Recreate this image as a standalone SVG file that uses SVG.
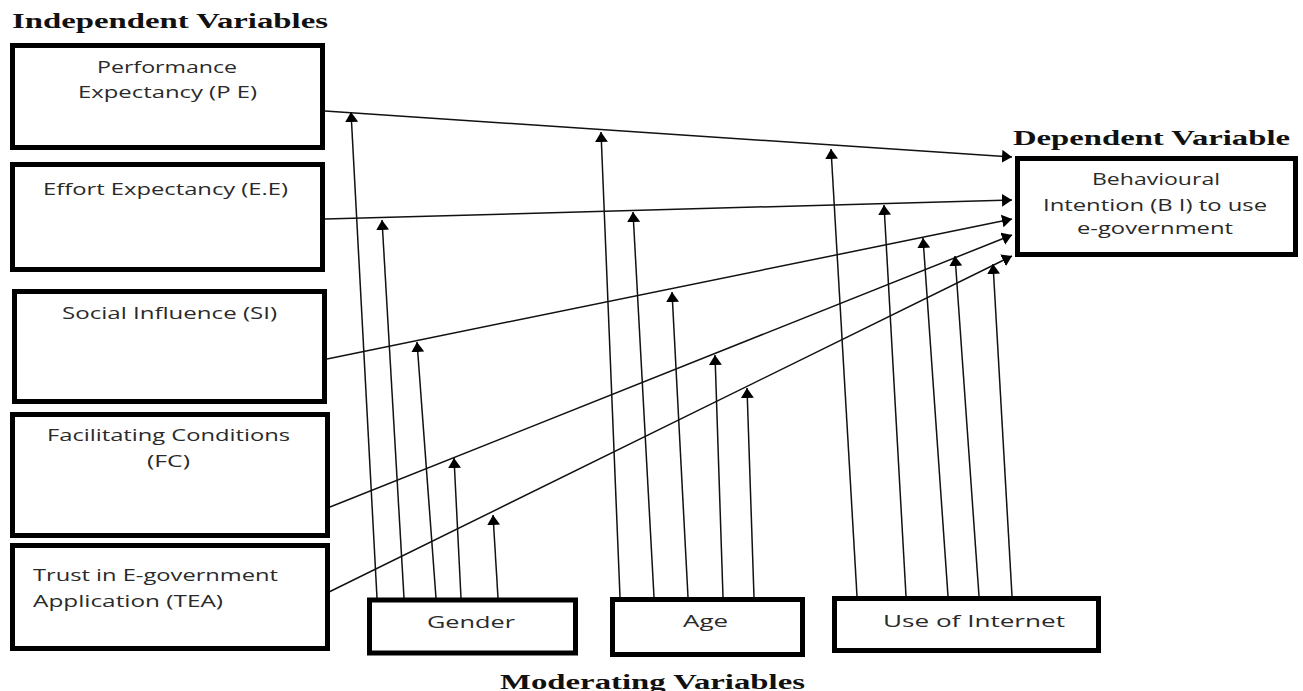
<svg xmlns="http://www.w3.org/2000/svg" width="1303" height="691" viewBox="0 0 1303 691">
<style>
.box{fill:#fff;stroke:#000;stroke-width:5}
.t{font-family:"Open Sans","Noto Sans",sans-serif;font-size:16px;fill:#2a2a2a}
.h{font-family:"Liberation Serif","Times New Roman",serif;font-size:20px;font-weight:bold;fill:#111}
.c{fill:none;stroke:#111;stroke-width:1.5}
</style>
<defs>
<marker id="ah" markerUnits="userSpaceOnUse" markerWidth="11" markerHeight="13" refX="10" refY="6.5" orient="auto">
<path d="M0,0 L10,6.5 L0,13 z" fill="#000"/>
</marker>
</defs>
<rect width="1303" height="691" fill="#fff"/>
<text class="h" x="12" y="28" textLength="316" lengthAdjust="spacingAndGlyphs">Independent Variables</text>
<text class="h" x="1013" y="145" textLength="277" lengthAdjust="spacingAndGlyphs">Dependent Variable</text>
<text class="h" x="500" y="689" textLength="305" lengthAdjust="spacingAndGlyphs">Moderating Variables</text>
<g id="connectors">
<line class="c" x1="325" y1="111" x2="1012" y2="157" marker-end="url(#ah)"/>
<line class="c" x1="325" y1="219" x2="1012" y2="200" marker-end="url(#ah)"/>
<line class="c" x1="327" y1="359" x2="1012" y2="219" marker-end="url(#ah)"/>
<line class="c" x1="330" y1="507" x2="1012" y2="235" marker-end="url(#ah)"/>
<line class="c" x1="329" y1="592" x2="1012" y2="256" marker-end="url(#ah)"/>
<line class="c" x1="377" y1="598" x2="351" y2="112" marker-end="url(#ah)"/>
<line class="c" x1="404" y1="598" x2="382" y2="220" marker-end="url(#ah)"/>
<line class="c" x1="436" y1="598" x2="417" y2="342" marker-end="url(#ah)"/>
<line class="c" x1="461" y1="598" x2="454" y2="458" marker-end="url(#ah)"/>
<line class="c" x1="498" y1="598" x2="493" y2="515" marker-end="url(#ah)"/>
<line class="c" x1="620" y1="597" x2="601" y2="132" marker-end="url(#ah)"/>
<line class="c" x1="654" y1="597" x2="633" y2="212" marker-end="url(#ah)"/>
<line class="c" x1="688" y1="597" x2="672" y2="292" marker-end="url(#ah)"/>
<line class="c" x1="723" y1="597" x2="715" y2="355" marker-end="url(#ah)"/>
<line class="c" x1="754" y1="597" x2="747" y2="388" marker-end="url(#ah)"/>
<line class="c" x1="857" y1="596" x2="831" y2="149" marker-end="url(#ah)"/>
<line class="c" x1="906" y1="596" x2="884" y2="205" marker-end="url(#ah)"/>
<line class="c" x1="948" y1="596" x2="923" y2="238" marker-end="url(#ah)"/>
<line class="c" x1="979" y1="596" x2="955" y2="256" marker-end="url(#ah)"/>
<line class="c" x1="1012" y1="596" x2="993" y2="264" marker-end="url(#ah)"/>
</g>
<g id="pe">
<rect class="box" x="12.5" y="45.5" width="310" height="102"/>
<text class="t" x="97" y="73" textLength="140" lengthAdjust="spacingAndGlyphs">Performance</text>
<text class="t" x="78" y="98" textLength="179" lengthAdjust="spacingAndGlyphs">Expectancy (P E)</text>
</g>
<g id="ee">
<rect class="box" x="12.5" y="164.5" width="310" height="105"/>
<text class="t" x="43" y="195" textLength="245" lengthAdjust="spacingAndGlyphs">Effort Expectancy (E.E)</text>
</g>
<g id="si">
<rect class="box" x="14.5" y="291.5" width="310" height="110"/>
<text class="t" x="62" y="319" textLength="215" lengthAdjust="spacingAndGlyphs">Social Influence (SI)</text>
</g>
<g id="fc">
<rect class="box" x="12.5" y="414.5" width="315" height="121"/>
<text class="t" x="47" y="441" textLength="243" lengthAdjust="spacingAndGlyphs">Facilitating Conditions</text>
<text class="t" x="147" y="467" textLength="43" lengthAdjust="spacingAndGlyphs">(FC)</text>
</g>
<g id="tea">
<rect class="box" x="12.5" y="545.5" width="315" height="103"/>
<text class="t" x="33" y="581" textLength="245" lengthAdjust="spacingAndGlyphs">Trust in E-government</text>
<text class="t" x="33" y="607" textLength="190" lengthAdjust="spacingAndGlyphs">Application (TEA)</text>
</g>
<g id="bi">
<rect class="box" x="1017.5" y="158.5" width="278" height="96"/>
<text class="t" x="1092" y="185" textLength="128" lengthAdjust="spacingAndGlyphs">Behavioural</text>
<text class="t" x="1043" y="211" textLength="224" lengthAdjust="spacingAndGlyphs">Intention (B I) to use</text>
<text class="t" x="1077" y="234" textLength="156" lengthAdjust="spacingAndGlyphs">e-government</text>
</g>
<g id="gender">
<rect class="box" x="369.5" y="600" width="206" height="53"/>
<text class="t" x="427" y="628" textLength="88" lengthAdjust="spacingAndGlyphs">Gender</text>
</g>
<g id="age">
<rect class="box" x="612.5" y="599.5" width="190" height="55"/>
<text class="t" x="683" y="627" textLength="45" lengthAdjust="spacingAndGlyphs">Age</text>
</g>
<g id="internet">
<rect class="box" x="834.5" y="598.5" width="264" height="52"/>
<text class="t" x="883" y="627" textLength="182" lengthAdjust="spacingAndGlyphs">Use of Internet</text>
</g>
</svg>
